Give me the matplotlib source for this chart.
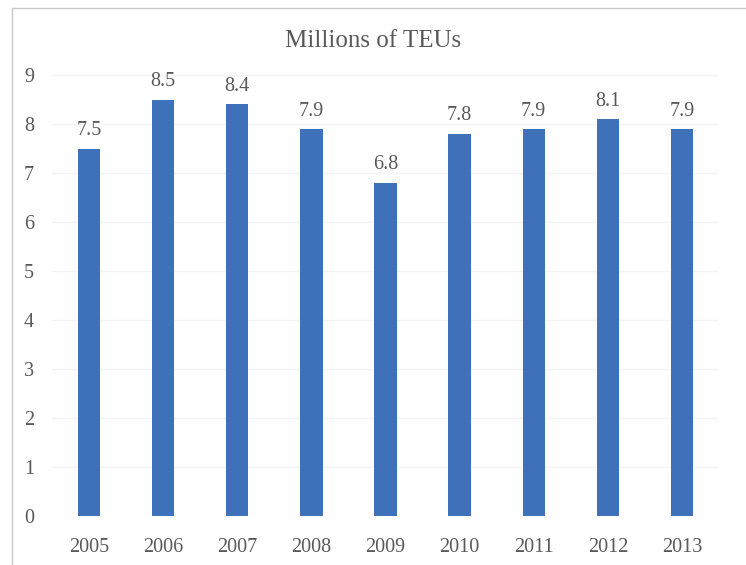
import matplotlib
matplotlib.use("Agg")
import matplotlib.pyplot as plt
from matplotlib.patches import Rectangle

years = ["2005", "2006", "2007", "2008", "2009", "2010", "2011", "2012", "2013"]
teus = [7.5, 8.5, 8.4, 7.9, 6.8, 7.8, 7.9, 8.1, 7.9]
y_ticks = [0, 1, 2, 3, 4, 5, 6, 7, 8, 9]

plt.rcParams["font.family"] = ["Liberation Serif", "DejaVu Serif"]
text_color = "#595959"
bar_color = "#3F71BA"

fig = plt.figure(figsize=(7.46, 5.65), dpi=100)
fig.patches.append(Rectangle((12 / 746, -0.1), 1.2, (565 - 8) / 565 + 0.1,
                             transform=fig.transFigure, fill=False,
                             edgecolor="#c8c8c8", linewidth=1.0))
ax = fig.add_axes([52 / 746, 49 / 565, (719 - 52) / 746, (516 - 75) / 565])

x = list(range(len(years)))
bars = ax.bar(x, teus, width=0.3, color=bar_color, zorder=3)
for xi, v in zip(x, teus):
    ax.text(xi, v + 0.17, f"{v:.1f}", ha="center", va="bottom",
            fontsize=14.5, color=text_color)

ax.set_xlim(-0.5, len(years) - 0.5)
ax.set_ylim(0, 9)
ax.set_yticks(y_ticks)
ax.set_yticklabels([str(t) for t in y_ticks])
ax.set_xticks(x)
ax.set_xticklabels(years)
ax.tick_params(axis="both", length=0, labelsize=14.5, labelcolor=text_color)
ax.tick_params(axis="y", pad=13)
ax.tick_params(axis="x", pad=16)
ax.grid(axis="y", color="#f4f4f4", linewidth=1.0, zorder=0)
for s in ax.spines.values():
    s.set_visible(False)

fig.text(373 / 746, 1 - 41 / 565, "Millions of TEUs", ha="center", va="center",
         fontsize=18, color=text_color)

fig.savefig("out.png", dpi=100)
